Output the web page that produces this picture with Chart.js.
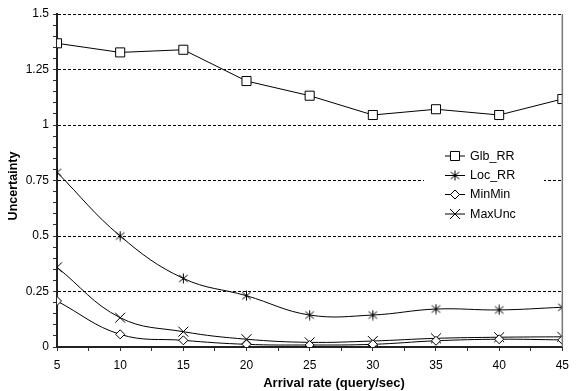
<!DOCTYPE html>
<html>
<head>
<meta charset="utf-8">
<script src="https://cdn.jsdelivr.net/npm/chart.js@4/dist/chart.umd.min.js"></script>
<style>
  html, body { margin: 0; padding: 0; background: #fff; }
  #wrap { width: 576px; height: 391px; }
</style>
</head>
<body>
<div id="wrap"><canvas id="chart" width="576" height="391"></canvas></div>
<script>
const rates = [5, 10, 15, 20, 25, 30, 35, 40, 45];
const glbRR = [1.368, 1.327, 1.339, 1.198, 1.132, 1.045, 1.071, 1.045, 1.117];
const locRR = [0.787, 0.5, 0.309, 0.231, 0.144, 0.144, 0.171, 0.167, 0.179];
const minMin = [0.207, 0.057, 0.030, 0.012, 0.009, 0.012, 0.028, 0.035, 0.032];
const maxUnc = [0.359, 0.132, 0.069, 0.035, 0.021, 0.027, 0.039, 0.044, 0.046];
const yMajor = [0, 0.25, 0.5, 0.75, 1, 1.25, 1.5];
const xTitle = "Arrival rate (query/sec)";
const yTitle = "Uncertainty";

const FONT = "Arial, 'Liberation Sans', sans-serif";

// asterisk marker: an x with a vertical stroke
function asterisk(size) {
  const c = document.createElement("canvas");
  c.width = size;
  c.height = size;
  const g = c.getContext("2d");
  const h = size / 2;
  const r = h - 0.5;
  g.strokeStyle = "#000";
  g.lineWidth = 1;
  g.beginPath();
  g.moveTo(h - r * 0.85, h - r * 0.7);
  g.lineTo(h + r * 0.85, h + r * 0.7);
  g.moveTo(h + r * 0.85, h - r * 0.7);
  g.lineTo(h - r * 0.85, h + r * 0.7);
  g.moveTo(h, h - r);
  g.lineTo(h, h + r);
  g.stroke();
  return c;
}

const starImg = asterisk(11);

function points(values) {
  return values.map((v, i) => ({ x: rates[i], y: v }));
}

const base = {
  borderColor: "#000",
  borderWidth: 1,
  pointBorderColor: "#000",
  pointBackgroundColor: "#fff",
  pointBorderWidth: 1,
};

const datasets = [
  { ...base, label: "Glb_RR", data: points(glbRR), pointStyle: "rect", pointRadius: 6.4, tension: 0 },
  { ...base, label: "Loc_RR", data: points(locRR), pointStyle: starImg, pointRadius: 5, tension: 0.4 },
  { ...base, label: "MinMin", data: points(minMin), pointStyle: "rectRot", pointRadius: 4.5, tension: 0.4 },
  { ...base, label: "MaxUnc", data: points(maxUnc), pointStyle: "crossRot", pointRadius: 7, tension: 0.4 },
];

const isMajor = (v) => yMajor.some((m) => Math.abs(m - v) < 1e-6);

// right frame edge, axis titles and the boxed legend inside the plot
const framePlugin = {
  id: "frame",
  afterDraw(chart) {
    const { ctx, chartArea } = chart;
    ctx.save();
    ctx.strokeStyle = "#777";
    ctx.lineWidth = 1.5;
    ctx.beginPath();
    ctx.moveTo(chartArea.right, chartArea.top);
    ctx.lineTo(chartArea.right, chartArea.bottom);
    ctx.stroke();

    ctx.fillStyle = "#000";
    ctx.textAlign = "center";
    ctx.textBaseline = "middle";
    ctx.font = "bold 13px " + FONT;
    ctx.fillText(xTitle, 334, 383);
    ctx.save();
    ctx.translate(14, 186);
    ctx.rotate(-Math.PI / 2);
    ctx.font = "bold 12.5px " + FONT;
    ctx.fillText(yTitle, 0, 0);
    ctx.restore();

    const boxX = 424, boxY = 142, boxW = 120, boxH = 86;
    ctx.fillStyle = "#fff";
    ctx.fillRect(boxX, boxY, boxW, boxH);

    const rows = [156, 175.5, 194.5, 214];
    chart.data.datasets.forEach((ds, i) => {
      const y = rows[i];
      ctx.strokeStyle = "#000";
      ctx.lineWidth = 1;
      ctx.beginPath();
      ctx.moveTo(445, y);
      ctx.lineTo(465, y);
      ctx.stroke();
      ctx.fillStyle = "#fff";
      Chart.helpers.drawPoint(ctx, {
        pointStyle: ds.pointStyle,
        radius: ds.pointRadius,
        borderWidth: 1,
        rotation: 0,
      }, 455, y);
      ctx.fillStyle = "#000";
      ctx.font = "12.5px " + FONT;
      ctx.textBaseline = "middle";
      ctx.textAlign = "left";
      ctx.fillText(ds.label, 470, y + 0.5);
    });
    ctx.restore();
  },
};

new Chart(document.getElementById("chart"), {
  type: "line",
  data: { datasets },
  plugins: [framePlugin],
  options: {
    responsive: false,
    animation: false,
    layout: { padding: { left: 0, right: 7, top: 14, bottom: 0 } },
    plugins: {
      legend: { display: false },
      tooltip: { enabled: false },
    },
    scales: {
      x: {
        type: "linear",
        min: 5,
        max: 45,
        afterFit(scale) { scale.height = 44; },
        ticks: {
          stepSize: 2.5,
          autoSkip: false,
          maxRotation: 0,
          padding: 7,
          color: "#000",
          font: { family: FONT, size: 12 },
          callback: (v) => (v % 5 === 0 ? String(v) : ""),
        },
        grid: {
          drawOnChartArea: false,
          drawTicks: true,
          tickLength: 4,
          tickColor: "#333",
        },
        border: { display: true, color: "#222", width: 2 },
      },
      y: {
        min: 0,
        max: 1.5,
        afterFit(scale) { scale.width = 57; },
        ticks: {
          stepSize: 0.05,
          autoSkip: false,
          padding: 4,
          color: "#000",
          font: { family: FONT, size: 12 },
          callback: (v) => (isMajor(v) ? String(Math.round(v * 100) / 100) : ""),
        },
        grid: {
          drawTicks: true,
          tickLength: 4,
          tickColor: "#333",
          lineWidth: 1,
          color: (c) => (c.tick && isMajor(c.tick.value) && c.tick.value !== 0 ? "#000" : "rgba(0,0,0,0)"),
        },
        border: { display: true, color: "#222", width: 2, dash: [3, 2] },
      },
    },
  },
});
</script>
</body>
</html>
